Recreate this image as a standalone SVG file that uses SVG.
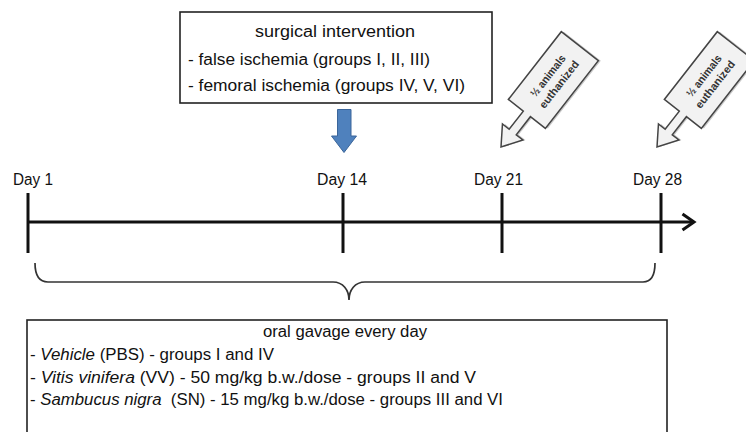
<svg xmlns="http://www.w3.org/2000/svg" width="746" height="432" viewBox="0 0 746 432">
<defs>
<style>
.t{font-family:"Liberation Sans",Arial,sans-serif;font-size:16px;fill:#111}
.box{fill:#fff;stroke:#222;stroke-width:1.6}
.ax{stroke:#111;stroke-width:3;fill:none}
.co{fill:#f2f2f2;stroke:#444;stroke-width:1.5;stroke-linejoin:miter}
.cs{fill:#888;opacity:.45}
.ct{font-family:"Liberation Sans",Arial,sans-serif;font-size:11px;font-weight:bold;fill:#333;text-anchor:middle}
.it{font-style:italic}
</style>
<path id="callout" d="M0,0 L19,-13 L19,-4.5 L42,-4.5 L42,-23.5 L128,-23.5 L128,23.5 L42,23.5 L42,4.5 L19,4.5 L19,13 Z"/>
</defs>
<rect width="746" height="432" fill="#fff"/>

<g id="surgical-box">
<rect class="box" x="180" y="12" width="312" height="91"/>
<text class="t" x="335" y="37" text-anchor="middle" textLength="160" lengthAdjust="spacingAndGlyphs">surgical intervention</text>
<text class="t" x="188" y="65" textLength="242" lengthAdjust="spacingAndGlyphs">- false ischemia (groups I, II, III)</text>
<text class="t" x="188" y="91" textLength="277" lengthAdjust="spacingAndGlyphs">- femoral ischemia (groups IV, V, VI)</text>
</g>

<g id="blue-arrow">
<path d="M337.5,109.5 L351,109.5 L351,136 L356.5,136 L344,152.5 L331.5,136 L337.5,136 Z" fill="#4f81bd" stroke="#3a659a" stroke-width="1"/>
</g>

<g id="callout-day21">
<g transform="translate(501,147) rotate(-52)">
<use href="#callout" class="cs" transform="translate(1.5,2)"/>
<use href="#callout" class="co"/>
<text class="ct" x="85" y="-3" textLength="50" lengthAdjust="spacingAndGlyphs">½ animals</text>
<text class="ct" x="85" y="11" textLength="57" lengthAdjust="spacingAndGlyphs">euthanized</text>
</g>
</g>

<g id="callout-day28">
<g transform="translate(657,147) rotate(-52)">
<use href="#callout" class="cs" transform="translate(1.5,2)"/>
<use href="#callout" class="co"/>
<text class="ct" x="85" y="-3" textLength="50" lengthAdjust="spacingAndGlyphs">½ animals</text>
<text class="ct" x="85" y="11" textLength="57" lengthAdjust="spacingAndGlyphs">euthanized</text>
</g>
</g>

<g id="connectors">
<line class="ax" x1="28" y1="222" x2="693" y2="222"/>
<polyline class="ax" points="682.5,214 694,222 682.5,230" stroke-linejoin="miter"/>
<path d="M35,263 C35,275 39,282 48,282 L333,282 C343,282 349,290 349,300 C349,290 355,282 365,282 L643,282 C651,282 655,275 655,263" fill="none" stroke="#333" stroke-width="1.7"/>
</g>

<g id="day1">
<line class="ax" x1="28" y1="193" x2="28" y2="253"/>
<text class="t" x="13" y="185" textLength="40" lengthAdjust="spacingAndGlyphs">Day 1</text>
</g>
<g id="day14">
<line class="ax" x1="343" y1="193" x2="343" y2="253"/>
<text class="t" x="317" y="185" textLength="50" lengthAdjust="spacingAndGlyphs">Day 14</text>
</g>
<g id="day21">
<line class="ax" x1="502" y1="193" x2="502" y2="253"/>
<text class="t" x="474" y="185" textLength="49" lengthAdjust="spacingAndGlyphs">Day 21</text>
</g>
<g id="day28">
<line class="ax" x1="661" y1="193" x2="661" y2="253"/>
<text class="t" x="633" y="185" textLength="49" lengthAdjust="spacingAndGlyphs">Day 28</text>
</g>

<g id="gavage-box">
<rect class="box" x="27" y="320" width="640" height="130"/>
<text class="t" x="345" y="337" text-anchor="middle" textLength="164" lengthAdjust="spacingAndGlyphs">oral gavage every day</text>
<text class="t" x="30" y="360" textLength="244" lengthAdjust="spacingAndGlyphs">- <tspan class="it">Vehicle</tspan> (PBS) - groups I and IV</text>
<text class="t" x="30" y="383" textLength="446" lengthAdjust="spacingAndGlyphs">- <tspan class="it">Vitis vinifera</tspan> (VV) - 50 mg/kg b.w./dose - groups II and V</text>
<text class="t" x="30" y="405" textLength="473" lengthAdjust="spacingAndGlyphs">- <tspan class="it">Sambucus nigra</tspan>&#160; (SN) - 15 mg/kg b.w./dose - groups III and VI</text>
</g>
</svg>
